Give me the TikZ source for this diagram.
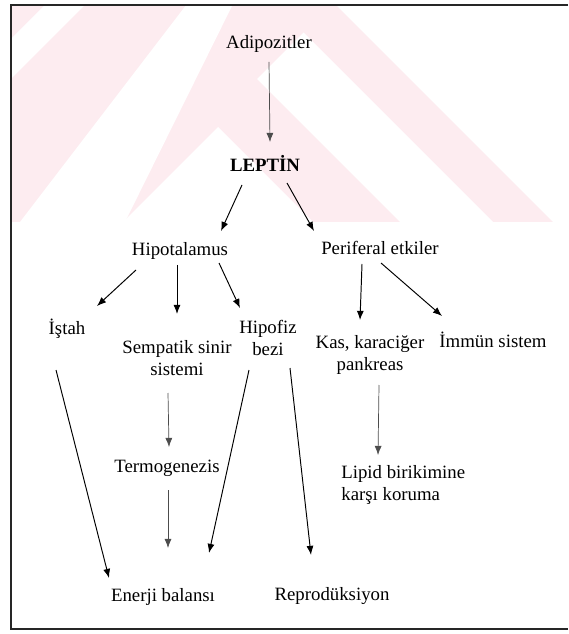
\documentclass[tikz,border=0pt]{standalone}
\usepackage{fontspec}
\setmainfont{Liberation Serif}
\usetikzlibrary{arrows.meta, calc}

\definecolor{wmpink}{RGB}{253,236,240}

\tikzset{
	lbl/.style = {font = \fontsize{10.7}{12.5}\selectfont, inner sep = 0pt, align = center},
	conn/.style = {->, line width = 0.55pt},
	thinconn/.style = {->, line width = 0.4pt, black!70}
}

\begin{document}
\begin{tikzpicture}[x = 0.02cm, y = -0.02cm, > = {Latex[length = 5.2pt, width = 4pt]}]

	\useasboundingbox (0, 0) rectangle (568, 634);

	% Watermark
	
	\begin{scope}
		\clip (12, 6) rectangle (568, 222);
		\fill [wmpink] (0, 0) rectangle (568, 222);
		\fill [white] (50, 0) -- (90, 0) -- (0, 90) -- (0, 50) -- cycle;
		\fill [white] (190, 0) -- (235, 0) -- (125, 222) -- (20, 222) -- cycle;
		\fill [white] (218, 127) -- (313, 222) -- (123, 222) -- cycle;
		\fill [white] (257, 79) -- (303.5, 32.5) -- (493, 222) -- (400, 222) -- cycle;
		\fill [white] (331, 0) -- (568, 0) -- (568, 222) -- (553, 222) -- cycle;
	\end{scope}
	
	% Frame
	
	\draw [line width = 1pt, black!85] (568, 5) -- (11, 5) -- (11, 629) -- (568, 629);
	
	% Nodes
	
	\node [lbl] (adipo) at (269, 44) {Adipozitler};
	\node [lbl, font = \fontsize{10.7}{12.5}\selectfont\bfseries] (leptin) at (265, 163) {LEPTİN};
	
	\node [lbl] (hipo) at (180, 251) {Hipotalamus};
	\node [lbl] (periferal) at (380, 248) {Periferal etkiler};
	
	\node [lbl] (istah) at (67, 329) {İştah};
	\node [lbl] (sempatik) at (177, 358) {Sempatik sinir\\sistemi};
	\node [lbl] (hipofiz) at (268, 338) {Hipofiz\\bezi};
	\node [lbl] (kas) at (370, 355) {Kas, karaciğer\\pankreas};
	\node [lbl] (immun) at (493, 340) {İmmün sistem};
	
	\node [lbl] (termo) at (167, 468) {Termogenezis};
	\node [lbl, align = left, anchor = west] (lipid) at (341, 485) {Lipid birikimine\\karşı koruma};
	
	\node [lbl] (enerji) at (163, 597) {Enerji balansı};
	\node [lbl] (repro) at (332, 596) {Reprodüksiyon};
	
	% Arrows
	
	\draw [thinconn] ($(adipo) + (0, 18)$) -- ($(leptin) + (5, -21)$);
	\draw [conn] ($(leptin) + (-23, 22)$) -- ($(hipo) + (41, -20)$);
	\draw [conn] ($(leptin) + (22, 20)$) -- ($(periferal) + (-66, -17)$);
	
	\draw [conn] ($(hipo) + (-44, 19)$) -- ($(istah) + (30, -23)$);
	\draw [conn] ($(hipo) + (-3, 14)$) -- ($(sempatik) + (0, -44)$);
	\draw [conn] ($(hipo) + (39, 12)$) -- ($(hipofiz) + (-28, -30)$);
	\draw [conn] ($(periferal) + (-18, 16)$) -- ($(kas) + (-10, -35)$);
	\draw [conn] ($(periferal) + (1, 15)$) -- ($(immun) + (-51, -24)$);
	
	\draw [thinconn] ($(sempatik) + (-9, 35)$) -- ($(termo) + (2, -21)$);
	\draw [thinconn] ($(termo) + (1, 22)$) -- ($(enerji) + (5, -49)$);
	\draw [thinconn] ($(kas) + (9, 30)$) -- ($(lipid.west) + (37, -30)$);
	
	\draw [conn] ($(istah) + (-11, 41)$) -- ($(enerji) + (-54, -19)$);
	\draw [conn] ($(hipofiz) + (-19, 32)$) -- ($(enerji) + (46, -44)$);
	\draw [conn] ($(hipofiz) + (22, 30)$) -- ($(repro) + (-21, -41)$);

\end{tikzpicture}
\end{document}
